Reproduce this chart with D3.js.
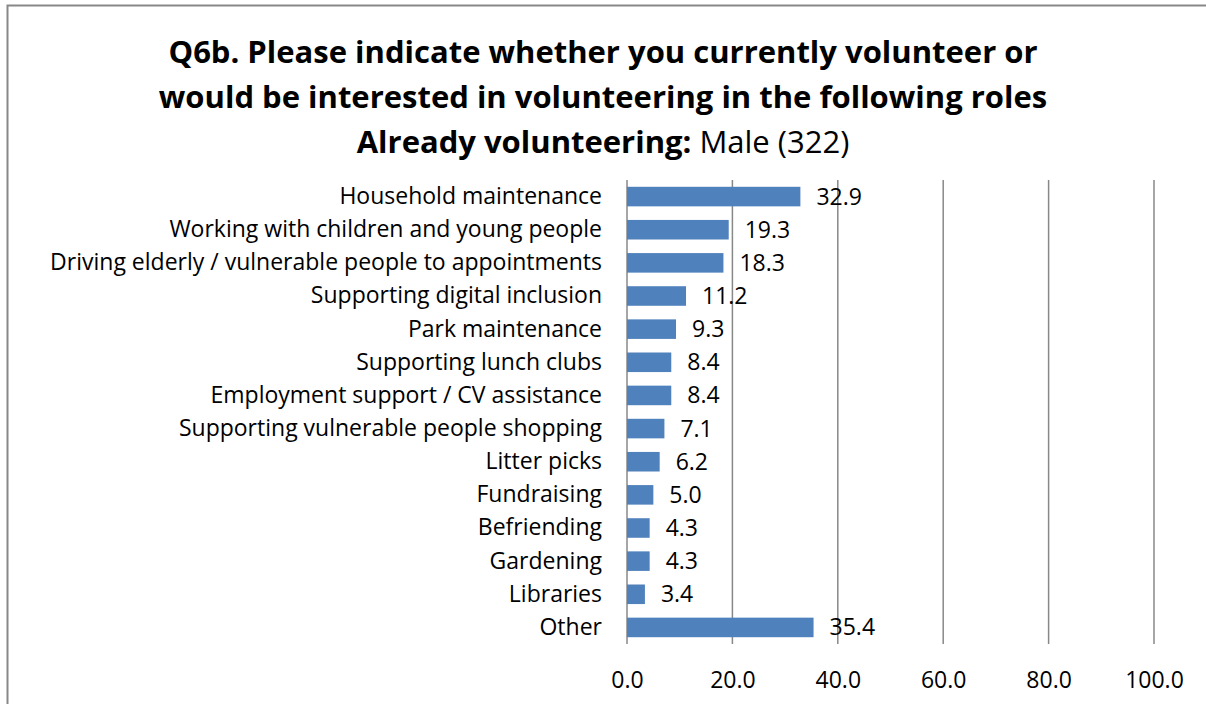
<!DOCTYPE html>
<html><head><meta charset="utf-8">
<script src="https://cdn.jsdelivr.net/npm/d3@7"></script>
<style>
body{margin:0;background:#fff;}
text{font-family:"Open Sans","Liberation Sans",sans-serif;}
</style></head>
<body><svg id="chart" width="1206" height="704"></svg>
<script>
const categories = ["Household maintenance","Working with children and young people","Driving elderly / vulnerable people to appointments","Supporting digital inclusion","Park maintenance","Supporting lunch clubs","Employment support / CV assistance","Supporting vulnerable people shopping","Litter picks","Fundraising","Befriending","Gardening","Libraries","Other"];
const values = [32.9,19.3,18.3,11.2,9.3,8.4,8.4,7.1,6.2,5.0,4.3,4.3,3.4,35.4];
const ticks = [0,20,40,60,80,100];
const titleLines = ["Q6b. Please indicate whether you currently volunteer or","would be interested in volunteering in the following roles"];

const FONT = '"Open Sans","Liberation Sans",sans-serif';
const svg = d3.select("#chart");
// outer border
svg.append("path").attr("d","M7.5,704 V5.5 H1206").attr("fill","none").attr("stroke","#888").attr("stroke-width",2);

const x = d3.scaleLinear().domain([0,100]).range([627,1154]);
const y = d3.scaleBand().domain(categories).range([180,644]).paddingInner(0.41).paddingOuter(0.205);

// gridlines
svg.append("g").selectAll("line").data(ticks).join("line")
  .attr("x1",d=>x(d)).attr("x2",d=>x(d)).attr("y1",180).attr("y2",644)
  .attr("stroke","#888").attr("stroke-width",1.5);

svg.append("g").selectAll("rect").data(values).join("rect")
  .attr("x",x(0)).attr("y",(d,i)=>y(categories[i]))
  .attr("width",d=>x(d)-x(0)).attr("height",y.bandwidth())
  .attr("fill","#4F81BD");

// axis
const xAxis = d3.axisBottom(x).tickValues(ticks).tickFormat(d3.format(".1f")).tickSize(0).tickPadding(0);
const ax = svg.append("g").attr("transform","translate(0,680)").call(xAxis);
ax.select(".domain").remove();
ax.selectAll("text").attr("font-size",23).attr("fill","#000").attr("dy","0.35em")
  .style("font-family",FONT);

const yAxis = d3.axisLeft(y).tickSize(0).tickPadding(25);
const ay = svg.append("g").attr("transform",`translate(${x(0)},0)`).call(yAxis);
ay.select(".domain").remove();
ay.selectAll("text").attr("font-size",23).attr("fill","#000")
  .style("font-family",FONT);

svg.append("g").selectAll("text").data(values).join("text")
  .attr("x",d=>x(d)+16).attr("y",(d,i)=>y(categories[i])+y.bandwidth()/2)
  .attr("dy","0.35em").attr("font-size",23).text(d=>d.toFixed(1));

const t = svg.append("g").attr("text-anchor","middle").attr("font-size",31).attr("font-weight","bold");
titleLines.forEach((l,i)=>t.append("text").attr("x",603).attr("y",63+i*45).text(l));
const t3 = t.append("text").attr("x",603).attr("y",153);
t3.append("tspan").text("Already volunteering: ");
t3.append("tspan").attr("font-weight","normal").text("Male (322)");
</script></body></html>
